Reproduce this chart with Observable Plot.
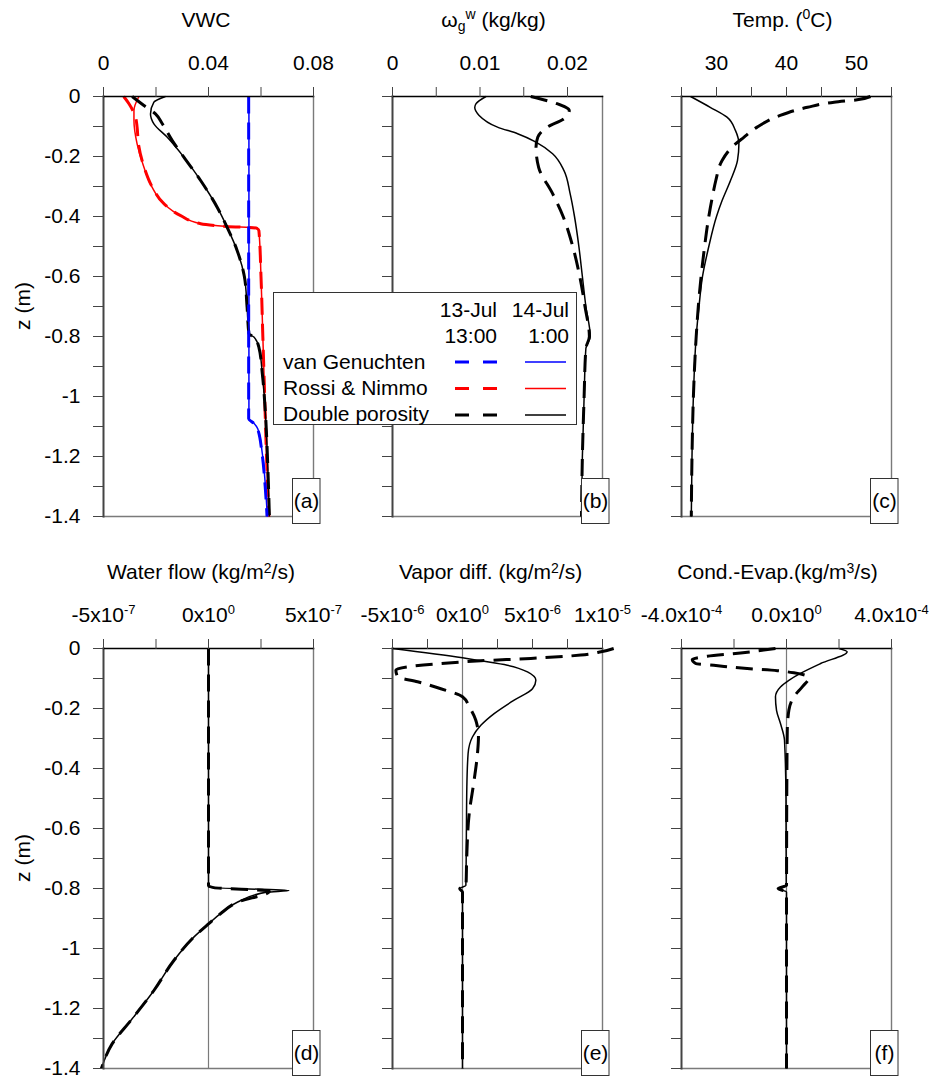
<!DOCTYPE html>
<html><head><meta charset="utf-8">
<script src="https://cdn.jsdelivr.net/npm/d3@7"></script>
<script src="https://cdn.jsdelivr.net/npm/@observablehq/plot@0.6"></script>
<style>
body{margin:0;background:#fff;}
#wrap{position:relative;width:932px;height:1077px;overflow:hidden;font-family:"Liberation Sans",Arial,sans-serif;background:#fff;}
#overlay{position:absolute;left:0;top:0;pointer-events:none;}
</style></head><body><div id="wrap"></div>
<script>
// ---------- depth axis ----------
const yTicks = [0,-0.1,-0.2,-0.3,-0.4,-0.5,-0.6,-0.7,-0.8,-0.9,-1,-1.1,-1.2,-1.3,-1.4];
const yTickLabels = ["0","","-0.2","","-0.4","","-0.6","","-0.8","","-1","","-1.2","","-1.4"];
const zeroLine = [0];

// ---------- (a) VWC ----------
const vwcTicks = [0,0.02,0.04,0.06,0.08];
const vwcTickLabels = ["0","","0.04","","0.08"];
const depthVG = [0,-0.3,-0.6,-0.9,-1.074,-1.089,-1.108,-1.19,-1.3,-1.4];
const vwcVG13 = [0.0553,0.0553,0.0553,0.0553,0.0553,0.0572,0.0587,0.0604,0.0616,0.0623];
const vwcVG14 = [0.0554,0.0554,0.0554,0.0554,0.0554,0.0573,0.0588,0.0605,0.0617,0.0624];
const depthRN14 = [0,-0.047,-0.08,-0.158,-0.236,-0.302,-0.358,-0.397,-0.424,-0.433,-0.439,-0.447,-0.6,-0.8,-1.0,-1.2,-1.4];
const vwcRN14 = [0.0135,0.0116,0.0116,0.0128,0.0154,0.0185,0.0230,0.0293,0.0370,0.0471,0.0585,0.0592,0.0600,0.0607,0.0614,0.0621,0.0630];
const depthRN13 = [0,-0.024,-0.069,-0.102,-0.158,-0.236,-0.302,-0.358,-0.397,-0.424,-0.433,-0.439,-0.447,-0.6,-0.8,-1.0,-1.2,-1.4];
const vwcRN13 = [0.0077,0.0097,0.0122,0.0128,0.0133,0.0155,0.0186,0.0231,0.0294,0.0370,0.0470,0.0584,0.0592,0.0600,0.0607,0.0614,0.0621,0.0630];
const depthDP14 = [0,-0.019,-0.058,-0.091,-0.136,-0.202,-0.28,-0.369,-0.436,-0.513,-0.602,-0.702,-0.791,-0.802,-0.836,-0.924,-1.058,-1.236,-1.4];
const vwcDP14 = [0.0236,0.0192,0.0179,0.0192,0.0243,0.0306,0.0370,0.0433,0.0471,0.0509,0.0537,0.0547,0.0554,0.0573,0.0592,0.0605,0.0617,0.0626,0.0632];
const depthDP13 = [0,-0.03,-0.058,-0.091,-0.147,-0.202,-0.28,-0.369,-0.436,-0.513,-0.602,-0.702,-0.791,-0.802,-0.836,-0.924,-1.058,-1.236,-1.4];
const vwcDP13 = [0.0109,0.0154,0.0198,0.0224,0.0262,0.0306,0.0370,0.0433,0.0471,0.0509,0.0537,0.0547,0.0554,0.0573,0.0592,0.0605,0.0617,0.0626,0.0632];

// ---------- (b) omega_g^w ----------
const omTicks = [0,0.005,0.01,0.015,0.02];
const omTickLabels = ["0","","0.01","","0.02"];
const depthW14 = [0,-0.024,-0.037,-0.063,-0.102,-0.124,-0.152,-0.191,-0.247,-0.324,-0.4,-0.5,-0.6,-0.7,-0.8,-0.84,-1.0,-1.2,-1.4];
const om14 = [0.01068,0.00955,0.0094,0.0099,0.0120,0.0143,0.0164,0.0183,0.0196,0.0203,0.0208,0.0213,0.0217,0.0221,0.0226,0.0221,0.0219,0.0217,0.0216];
const depthW13 = [0,-0.024,-0.047,-0.074,-0.102,-0.136,-0.169,-0.236,-0.324,-0.4,-0.5,-0.6,-0.7,-0.8,-0.84,-1.0,-1.2,-1.4];
const om13 = [0.0158,0.0188,0.0202,0.0196,0.0177,0.0166,0.0164,0.0167,0.0183,0.0195,0.0206,0.0214,0.0220,0.0225,0.0221,0.0219,0.0217,0.0216];

// ---------- (c) Temperature ----------
const tTicks = [25,30,35,40,45,50,55];
const tTickLabels = ["","30","","40","","50",""];
const depthT14 = [0,-0.036,-0.069,-0.113,-0.158,-0.213,-0.28,-0.347,-0.4,-0.5,-0.6,-0.7,-0.8,-1.0,-1.2,-1.4];
const temp14 = [26.3,29.1,31.5,32.7,33.2,33.0,32.0,30.8,30.0,28.9,28.0,27.5,27.1,26.7,26.5,26.4];
const depthT13 = [0,-0.011,-0.019,-0.036,-0.063,-0.102,-0.136,-0.169,-0.213,-0.28,-0.324,-0.4,-0.5,-0.6,-0.7,-0.8,-1.0,-1.2,-1.4];
const temp13 = [52.0,50.1,46.8,43.0,39.1,35.8,33.9,32.2,30.8,29.9,29.5,28.9,28.3,27.8,27.4,27.1,26.7,26.5,26.4];

// ---------- (d) Water flow ----------
const qTicks = [-5e-7,-2.5e-7,0,2.5e-7,5e-7];
const qTickLabels = ["-5x10^-7","","0x10^0","","5x10^-7"];
const depthQ14 = [0,-0.796,-0.807,-0.812,-0.846,-0.884,-0.918,-0.962,-1.04,-1.14,-1.24,-1.318,-1.4];
const q14 = [0,0,3.83e-7,2.8e-7,1.37e-7,5.7e-8,0,-7e-8,-1.65e-7,-2.6e-7,-3.7e-7,-4.59e-7,-5.1e-7];
const depthQ13 = [0,-0.79,-0.797,-0.809,-0.846,-0.884,-0.918,-0.962,-1.04,-1.14,-1.24,-1.318,-1.4];
const q13 = [0,0,2.5e-8,2.9e-7,1.37e-7,5.7e-8,0,-7e-8,-1.65e-7,-2.6e-7,-3.7e-7,-4.59e-7,-5.1e-7];

// ---------- (e) Vapor diffusion ----------
const vTicks = [-5e-6,-2.5e-6,0,2.5e-6,5e-6,7.5e-6,1e-5];
const vTickLabels = ["-5x10^-6","","0x10^0","","5x10^-6","","1x10^-5"];
const depthV14 = [0,-0.031,-0.041,-0.056,-0.078,-0.106,-0.134,-0.172,-0.217,-0.256,-0.295,-0.35,-0.461,-0.6,-0.79,-0.8,-0.812,-1.0,-1.4];
const vap14 = [-5.0e-6,0,1.31e-6,3.2e-6,4.64e-6,5.24e-6,5.0e-6,3.69e-6,2.26e-6,1.31e-6,7.1e-7,4.0e-7,3.1e-7,2.8e-7,2.4e-7,-2.0e-7,0,0,0];
const depthV13 = [0,-0.011,-0.022,-0.033,-0.041,-0.05,-0.061,-0.072,-0.094,-0.111,-0.134,-0.161,-0.194,-0.239,-0.295,-0.35,-0.439,-0.55,-0.7,-0.79,-0.8,-0.812,-1.0,-1.4];
const vap13 = [1.08e-5,9.9e-6,8.45e-6,4.88e-6,1.31e-6,-1.55e-6,-3.93e-6,-4.76e-6,-4.64e-6,-3.21e-6,-1.55e-6,0,4.8e-7,9.5e-7,1.14e-6,1.07e-6,8.3e-7,4.8e-7,3.0e-7,2.5e-7,-2.0e-7,0,0,0];

// ---------- (f) Condensation - Evaporation ----------
const ceTicks = [-4e-4,-2e-4,0,2e-4,4e-4];
const ceTickLabels = ["-4.0x10^-4","","0.0x10^0","","4.0x10^-4"];
const depthCE14 = [0,-0.011,-0.05,-0.083,-0.106,-0.128,-0.161,-0.206,-0.25,-0.306,-0.5,-0.79,-0.8,-0.812,-1.0,-1.4];
const ce14 = [2.0e-4,2.31e-4,1.3e-4,5.3e-5,9e-6,-2.3e-5,-4.2e-5,-3.8e-5,-2.3e-5,-7.6e-6,-2e-6,-1e-6,-3.2e-5,0,0,0];
const depthCE13 = [0,-0.015,-0.026,-0.037,-0.05,-0.056,-0.067,-0.074,-0.081,-0.097,-0.128,-0.161,-0.206,-0.272,-0.5,-0.79,-0.8,-0.812,-1.0,-1.4];
const ce13 = [-4.2e-5,-1.75e-4,-3.02e-4,-3.59e-4,-3.46e-4,-2.77e-4,-1.5e-4,-3.5e-5,2.8e-5,8.5e-5,6e-5,2.8e-5,9e-6,3e-6,1e-6,0,-3.2e-5,0,0,0];

// ---------- build ----------
const BLUE = "#0000ff", RED = "#ff0000", BLACK = "#000000";
const tbl = (z, v) => z.map((d, i) => ({z: d, v: v[i]}));
const S = (z, v, color, dashed) => ({data: tbl(z, v), color, dashed});

const PW = 210, PH = 420, ML = 90, MR = 24;
const panels = [
  {left:103, top:0, mt:96, mb:24, xDomain:[0,0.08], xTicks:vwcTicks, xLabels:vwcTickLabels, yLab:true, zero:false,
   series:[S(depthRN13,vwcRN13,RED,true),S(depthRN14,vwcRN14,RED,false),S(depthDP13,vwcDP13,BLACK,true),S(depthDP14,vwcDP14,BLACK,false),S(depthVG,vwcVG14,BLUE,false),S(depthVG,vwcVG13,BLUE,true)]},
  {left:392, top:0, mt:96, mb:24, xDomain:[0,0.024], xTicks:omTicks, xLabels:omTickLabels, yLab:false, zero:false,
   series:[S(depthW13,om13,BLACK,true),S(depthW14,om14,BLACK,false)]},
  {left:681, top:0, mt:96, mb:24, xDomain:[25,55], xTicks:tTicks, xLabels:tTickLabels, yLab:false, zero:false,
   series:[S(depthT13,temp13,BLACK,true),S(depthT14,temp14,BLACK,false)]},
  {left:103, top:552, mt:96, mb:9, xDomain:[-5e-7,5e-7], xTicks:qTicks, xLabels:qTickLabels, yLab:true, zero:true,
   series:[S(depthQ13,q13,BLACK,true),S(depthQ14,q14,BLACK,false)]},
  {left:392, top:552, mt:96, mb:9, xDomain:[-5e-6,1e-5], xTicks:vTicks, xLabels:vTickLabels, yLab:false, zero:true,
   series:[S(depthV13,vap13,BLACK,true),S(depthV14,vap14,BLACK,false)]},
  {left:681, top:552, mt:96, mb:9, xDomain:[-4e-4,4e-4], xTicks:ceTicks, xLabels:ceTickLabels, yLab:false, zero:true,
   series:[S(depthCE13,ce13,BLACK,true),S(depthCE14,ce14,BLACK,false)]}
];

const wrap = document.getElementById("wrap");
const SVGNS = "http://www.w3.org/2000/svg";
const yMap = new Map(yTicks.map((t, i) => [t, yTickLabels[i]]));

for (const p of panels) {
  const xMap = new Map(p.xTicks.map((t, i) => [t, p.xLabels[i]]));
  const marks = [];
  if (p.zero) marks.push(Plot.ruleX(zeroLine, {stroke: "#7a7a7a", strokeWidth: 1.2}));
  marks.push(Plot.frame({anchor: "right", stroke: "#7a7a7a", strokeWidth: 1.4}));
  marks.push(Plot.frame({anchor: "bottom", stroke: "#7a7a7a", strokeWidth: 1.4}));
  for (const s of p.series) {
    marks.push(Plot.line(s.data, {x: "v", y: "z", stroke: s.color, curve: "monotone-y",
      strokeWidth: s.dashed ? 3 : 1.5,
      strokeDasharray: s.dashed ? "17,9" : null,
      strokeLinecap: "butt"}));
  }
  marks.push(Plot.frame({anchor: "left", stroke: "#444", strokeWidth: 2}));
  marks.push(Plot.frame({anchor: "top", stroke: "#000", strokeWidth: 1.5}));
  marks.push(Plot.axisX({anchor: "top", ticks: p.xTicks, tickSize: 10, tickPadding: 17, stroke: "#444", fill: "#000",
    label: null, tickFormat: d => xMap.get(d) ?? ""}));
  marks.push(Plot.axisY({anchor: "left", ticks: yTicks, tickSize: 10, tickPadding: 13, stroke: "#444", fill: "#000",
    label: null, tickFormat: d => p.yLab ? (yMap.get(d) ?? "") : ""}));
  const svg = Plot.plot({
    width: ML + PW + MR, height: p.mt + PH + p.mb,
    marginLeft: ML, marginRight: MR, marginTop: p.mt, marginBottom: p.mb,
    x: {domain: p.xDomain}, y: {domain: [-1.4, 0]},
    style: {fontFamily: "'Liberation Sans', Arial, sans-serif", fontSize: "21px", background: "transparent", overflow: "visible"},
    marks
  });
  svg.style.position = "absolute";
  svg.style.left = (p.left - ML) + "px";
  svg.style.top = p.top + "px";
  // superscripts for exponent tick labels
  svg.querySelectorAll("text").forEach(t => {
    const s = t.textContent;
    if (!s.includes("^")) return;
    const [base, exp] = s.split("^");
    t.textContent = "";
    t.appendChild(document.createTextNode(base));
    const ts = document.createElementNS(SVGNS, "tspan");
    ts.setAttribute("font-size", "13");
    ts.setAttribute("dy", "-8");
    ts.textContent = exp;
    t.appendChild(ts);
  });
  wrap.appendChild(svg);
}

// ---------- overlay: titles, axis labels, legend, panel tags ----------
const legendRows = [
  {name: "van Genuchten", color: BLUE},
  {name: "Rossi & Nimmo", color: RED},
  {name: "Double porosity", color: BLACK}
];
const panelTags = ["(a)","(b)","(c)","(d)","(e)","(f)"];

let ov = `<svg id="overlay" xmlns="${SVGNS}" width="932" height="1077" font-family="'Liberation Sans', Arial, sans-serif" font-size="21" fill="#000">`;
ov += `<text x="206" y="27" text-anchor="middle">VWC</text>`;
ov += `<text x="493.5" y="27" text-anchor="middle">ω<tspan font-size="14" dy="4">g</tspan><tspan font-size="14" dy="-12">w</tspan><tspan dy="8"> (kg/kg)</tspan></text>`;
ov += `<text x="782.5" y="27" text-anchor="middle">Temp. (<tspan font-size="14" dy="-8">0</tspan><tspan dy="8">C)</tspan></text>`;
ov += `<text x="201" y="578.5" text-anchor="middle">Water flow (kg/m<tspan font-size="14" dy="-6">2</tspan><tspan dy="6">/s)</tspan></text>`;
ov += `<text x="490.5" y="578.5" text-anchor="middle">Vapor diff. (kg/m<tspan font-size="14" dy="-6">2</tspan><tspan dy="6">/s)</tspan></text>`;
ov += `<text x="777.5" y="578.5" text-anchor="middle">Cond.-Evap.(kg/m<tspan font-size="14" dy="-6">3</tspan><tspan dy="6">/s)</tspan></text>`;
ov += `<text transform="translate(30,306) rotate(-90)" text-anchor="middle">z (m)</text>`;
ov += `<text transform="translate(30,858) rotate(-90)" text-anchor="middle">z (m)</text>`;
// legend
ov += `<rect x="273.5" y="292.5" width="303" height="132" fill="#fff" stroke="#333" stroke-width="1"/>`;
ov += `<text x="497" y="317" text-anchor="end">13-Jul</text><text x="497" y="343" text-anchor="end">13:00</text>`;
ov += `<text x="569" y="317" text-anchor="end">14-Jul</text><text x="569" y="343" text-anchor="end">1:00</text>`;
legendRows.forEach((r, i) => {
  const by = 369 + i * 26, ly = 362 + i * 26.5;
  ov += `<text x="283" y="${by}">${r.name.replace("&","&amp;")}</text>`;
  ov += `<line x1="455" x2="497" y1="${ly}" y2="${ly}" stroke="${r.color}" stroke-width="3" stroke-dasharray="14,14"/>`;
  ov += `<line x1="525" x2="566" y1="${ly}" y2="${ly}" stroke="${r.color}" stroke-width="1.5"/>`;
});
// panel tags
panels.forEach((p, i) => {
  const right = p.left + PW;
  const by = p.top + p.mt + PH;
  ov += `<rect x="${right - 20.5}" y="${by - 37.5}" width="27.5" height="45" fill="#fff" stroke="#333" stroke-width="1"/>`;
  ov += `<text x="${right - 6.5}" y="${by - 8}" text-anchor="middle">${panelTags[i]}</text>`;
});
ov += `</svg>`;
wrap.insertAdjacentHTML("beforeend", ov);
</script>
</body></html>
